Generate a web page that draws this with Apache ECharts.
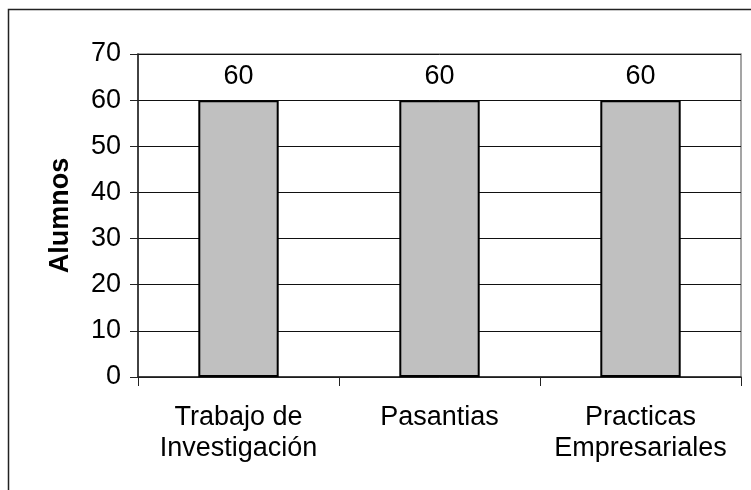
<!DOCTYPE html>
<html><head><meta charset="utf-8">
<script src="https://cdn.jsdelivr.net/npm/echarts@6/dist/echarts.min.js"></script>
<style>html,body{margin:0;padding:0;background:#fff}#c{width:751px;height:490px}</style>
</head><body><div id="c"></div>
<script>
const categories = ['Trabajo de\nInvestigación', 'Pasantias', 'Practicas\nEmpresariales'];
const values = [60, 60, 60];
const yTicks = [0, 10, 20, 30, 40, 50, 60, 70];
const yTitle = 'Alumnos';

const chart = echarts.init(document.getElementById('c'));
const font = 'Liberation Sans, Arial, sans-serif';
chart.setOption({
  animation: false,
  backgroundColor: '#fff',
  graphic: [{
    type: 'rect', shape: {x: 8.5, y: 9.5, width: 800, height: 600},
    style: {fill: 'none', stroke: '#222', lineWidth: 1.5}, silent: true
  }, {
    type: 'rect', shape: {x: 138, y: 54, width: 603, height: 323},
    style: {fill: 'none', stroke: '#888', lineWidth: 1.5}, silent: true, z: -1
  }],
  grid: {left: 138, top: 54, right: 10, bottom: 113, containLabel: false},
  xAxis: {
    type: 'category', data: categories, boundaryGap: true,
    axisLine: {lineStyle: {color: '#222', width: 1.5}},
    axisTick: {show: true, interval: 0, length: 9, lineStyle: {color: '#222'}},
    axisLabel: {interval: 0, hideOverlap: false, color: '#000', fontSize: 27, fontFamily: font, lineHeight: 31, margin: 25}
  },
  yAxis: {
    type: 'value', min: yTicks[0], max: yTicks[yTicks.length - 1], interval: 10,
    name: yTitle, nameLocation: 'middle', nameGap: 64,
    nameTextStyle: {fontSize: 27, fontWeight: 'bold', fontFamily: font, color: '#000'},
    axisLine: {show: true, lineStyle: {color: '#222', width: 1.5}},
    axisTick: {show: true, length: 8, lineStyle: {color: '#222'}},
    axisLabel: {color: '#000', fontSize: 27, fontFamily: font, margin: 17},
    splitLine: {show: true, lineStyle: {color: '#111', width: 1}}
  },
  series: [{
    type: 'bar', data: values, barWidth: '40%',
    itemStyle: {color: '#c0c0c0', borderColor: '#000', borderWidth: 2},
    label: {show: true, position: 'top', distance: 10, color: '#000', fontSize: 27, fontFamily: font}
  }]
});
</script></body></html>
